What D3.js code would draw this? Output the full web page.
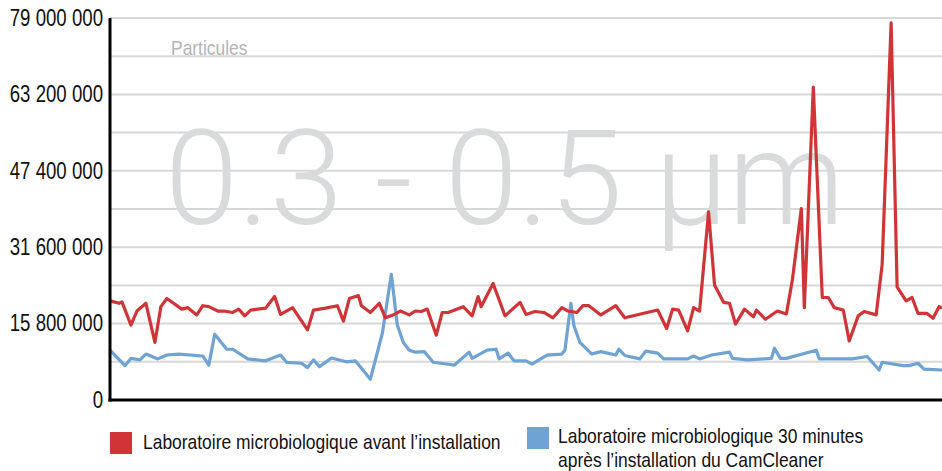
<!DOCTYPE html>
<html><head><meta charset="utf-8">
<script src="https://cdn.jsdelivr.net/npm/d3@7"></script>
<style>
html,body{margin:0;padding:0;background:#fff;}
svg{display:block;}
text.narrow{font-family:"Liberation Sans Narrow","Liberation Sans",Arial,sans-serif;}
</style></head>
<body>
<svg id="chart" width="942" height="471"></svg>
<script>
// ---- data (values in millions of particles, x = sample number) ----
const yTicks = [0, 15800000, 31600000, 47400000, 63200000, 79000000];
const seriesNames = ["Laboratoire microbiologique avant l’installation",
                     "Laboratoire microbiologique 30 minutes|après l’installation du CamCleaner"];
const redT = [0,3,4,7,9,12,15,17,19,24,26,29,31,33,36,38,41,43,45,47,52,55,57,61,66,68,72,76,78,80,83,84,87,90,92,95,97,100,102,104,106,109,111,113,118,121,123,124,128,132,137,139,142,145,148,151,153,156,158,160,164,169,172,183,186,188,190,193,195,197,200,202,205,207,209,212,215,216,219,223,226,228,231,232,235,238,240,242,245,247,250,252,256,258,261,263,266,268,270,273,275,277,278];
const redV = [20.5,20.0,20.3,15.5,18.4,20.0,11.9,19.3,21.0,18.8,19.1,17.6,19.5,19.3,18.4,18.4,18.1,18.8,17.4,18.6,19.0,21.4,17.7,19.1,14.5,18.6,19.0,19.5,16.3,21.0,21.6,19.5,18.1,20.0,17.0,17.7,18.4,17.6,18.4,18.3,18.8,13.4,18.1,18.1,19.3,17.4,21.4,19.3,24.1,17.4,20.2,17.7,18.3,18.1,17.0,19.1,18.4,18.1,19.5,19.5,17.6,19.5,17.0,18.6,14.8,18.8,18.6,14.3,19.1,18.4,38.9,23.8,20.2,20.0,15.7,18.8,17.2,18.6,16.7,18.4,17.8,24.8,39.6,19.1,64.7,21.2,21.2,19.1,18.6,12.2,17.4,18.3,17.6,28.0,78.0,23.4,20.5,21.2,17.9,17.9,16.9,19.3,19.0];
const blueT = [0,5,7,10,12,16,19,23,31,33,35,39,41,46,52,57,59,64,66,68,70,74,79,82,87,91,94,96,98,100,102,105,108,113,115,120,121,126,129,130,133,135,139,141,146,151,152,154,155,157,161,164,169,170,172,177,179,183,185,193,195,197,201,207,208,213,221,222,224,226,236,237,248,253,257,258,265,267,270,272,278];
const blueV = [10.3,7.1,8.6,8.3,9.5,8.5,9.3,9.5,9.1,7.2,13.6,10.5,10.5,8.5,8.1,9.3,7.8,7.6,6.7,8.3,6.9,8.7,7.9,8.1,4.3,13.8,26.0,15.5,11.9,10.3,9.9,10.0,7.8,7.4,7.2,9.9,8.6,10.3,10.5,8.5,9.7,8.1,8.1,7.4,9.3,9.5,10.3,20.0,15.4,11.9,9.5,10.0,9.3,10.5,9.2,8.5,10.1,9.7,8.5,8.5,9.1,8.5,9.3,9.9,8.6,8.3,8.6,10.7,8.6,8.6,10.3,8.5,8.5,9.0,6.2,7.8,7.1,7.1,7.6,6.4,6.2];
const sampleMax = 278;

// ---- layout ----
const plot = {left:110, right:942, top:18, bottom:400};
const colors = ["#d13436", "#6ea3d3"];
const CONDENSE = 0.83;

const svg = d3.select("#chart");
const x = d3.scaleLinear().domain([0, sampleMax]).range([plot.left, plot.right]);
const y = d3.scaleLinear().domain([0, 79000000]).range([plot.bottom, plot.top]);
const fmt = d3.formatLocale({decimal:",", thousands:" ", grouping:[3], currency:["",""]}).format(",d");

function condense(sel, k) {
  sel.each(function() {
    const w = this.getComputedTextLength();
    d3.select(this).attr("textLength", w * k).attr("lengthAdjust", "spacingAndGlyphs");
  });
}

// minor + major gridlines
const gridVals = d3.range(0, 79000001, 7900000).slice(1);
svg.append("g").selectAll("line").data(gridVals).join("line")
  .attr("x1", plot.left).attr("x2", plot.right)
  .attr("y1", d => y(d)).attr("y2", d => y(d))
  .attr("stroke", "#d8d8d8").attr("stroke-width", 2);

// big watermark text
const big = svg.append("text").text("0.3 - 0.5 µm")
  .attr("x", 165).attr("y", 224)
  .attr("fill", "#d9dadb")
  .style("font-family", "Roboto, Lato, 'Open Sans', sans-serif")
  .style("font-weight", 300)
  .style("font-size", "130px");
{
  const w = big.node().getComputedTextLength();
  big.style("font-size", (130 * 680 / w) + "px");
}
const part = svg.append("text").text("Particules").attr("class","narrow")
  .attr("x", 171).attr("y", 55).attr("fill", "#b4b4b4")
  .style("font-size", "21px");
condense(part, CONDENSE);

// lines
const line = d3.line().x(d => x(d[0])).y(d => y(d[1] * 1e6));
const redData = redT.map((t,i) => [t, redV[i]]);
const blueData = blueT.map((t,i) => [t, blueV[i]]);
svg.append("path").datum(blueData).attr("d", line)
  .attr("fill","none").attr("stroke", colors[1]).attr("stroke-width", 3.2).attr("stroke-linejoin","round");
svg.append("path").datum(redData).attr("d", line)
  .attr("fill","none").attr("stroke", colors[0]).attr("stroke-width", 3.2).attr("stroke-linejoin","round");

// axes
const yAxis = d3.axisLeft(y).tickValues(yTicks).tickFormat(fmt).tickSize(0).tickPadding(7);
const gy = svg.append("g").attr("transform", `translate(${plot.left},0)`).call(yAxis);
gy.select(".domain").remove();
gy.attr("font-family", null).attr("font-size", null);
gy.selectAll("text").attr("class","narrow").style("font-size","23px").attr("fill","#111");
condense(gy.selectAll("text"), 0.81);
svg.append("line").attr("x1", plot.left).attr("x2", plot.left).attr("y1", plot.top).attr("y2", plot.bottom+1.5)
  .attr("stroke","#000").attr("stroke-width",3);
svg.append("line").attr("x1", plot.left-1.5).attr("x2", plot.right).attr("y1", plot.bottom).attr("y2", plot.bottom)
  .attr("stroke","#000").attr("stroke-width",3);

// legend
const leg = [{x:110, ys:432, tx:143, lines:[449]}, {x:527, ys:427, tx:558, lines:[443,467]}];
seriesNames.forEach((name, i) => {
  const L = leg[i];
  svg.append("rect").attr("x", L.x).attr("y", L.ys).attr("width", 22).attr("height", 22).attr("fill", colors[i]);
  name.split("|").forEach((s, j) => {
    const t = svg.append("text").attr("class","narrow").text(s)
      .attr("x", L.tx).attr("y", L.lines[j]).attr("fill","#111").style("font-size","21px");
    condense(t, CONDENSE);
  });
});
</script>
</body></html>
